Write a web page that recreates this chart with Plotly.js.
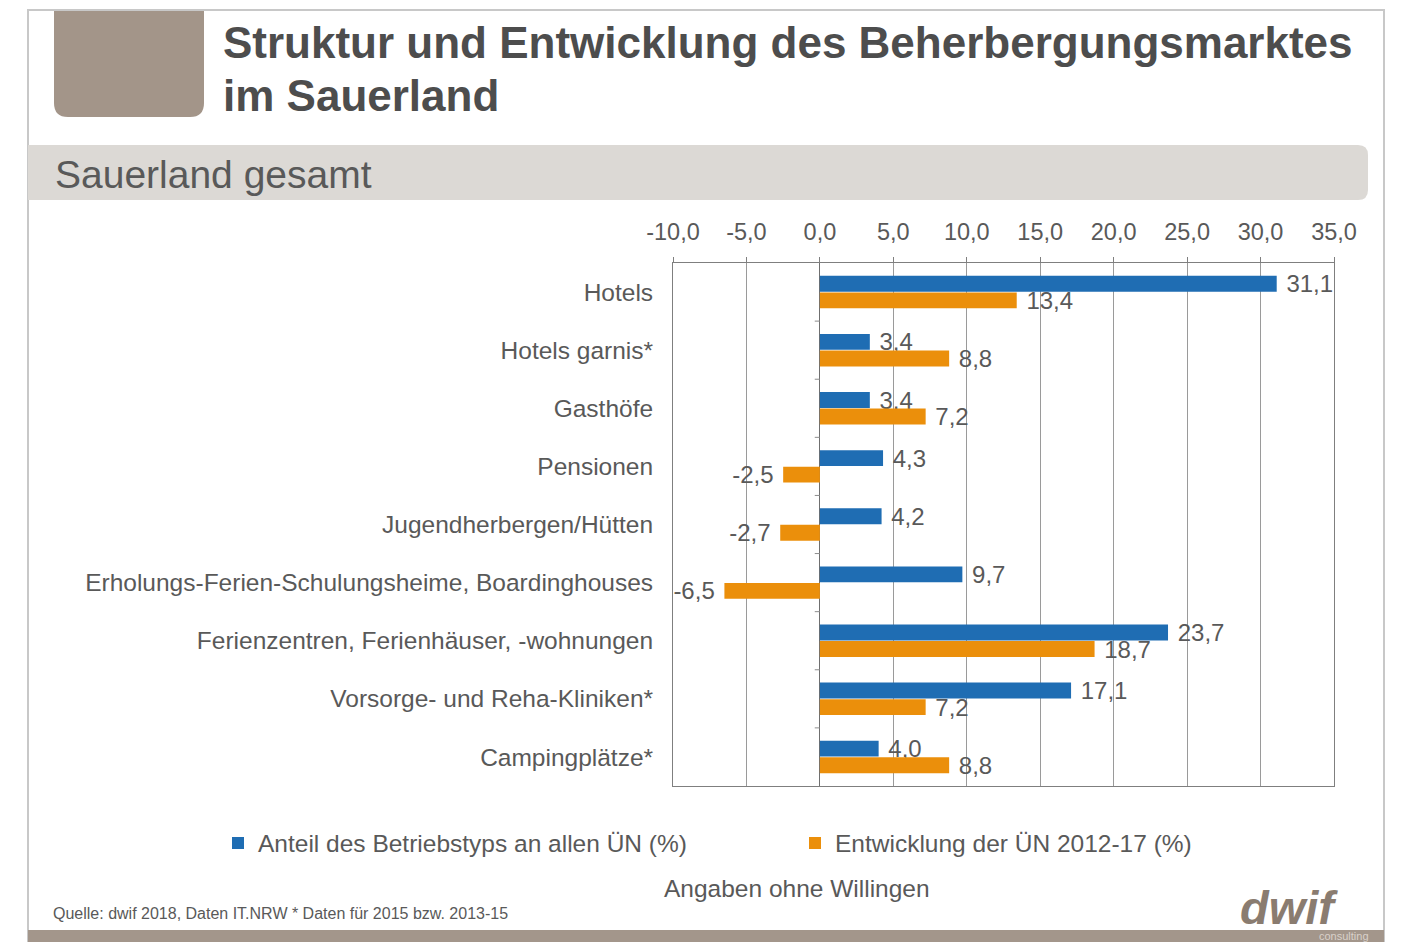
<!DOCTYPE html>
<html>
<head>
<meta charset="utf-8">
<script src="https://cdn.plot.ly/plotly-3.0.1.min.js"></script>
<style>html,body{margin:0;padding:0;background:#fff;}#chart{width:1403px;height:942px;}</style>
</head>
<body>
<div id="chart"></div>
<script>
const categories = ["Hotels","Hotels garnis*","Gasthöfe","Pensionen","Jugendherbergen/Hütten","Erholungs-Ferien-Schulungsheime, Boardinghouses","Ferienzentren, Ferienhäuser, -wohnungen","Vorsorge- und Reha-Kliniken*","Campingplätze*"];
const anteil = [31.1,3.4,3.4,4.3,4.2,9.7,23.7,17.1,4.0];
const entwicklung = [13.4,8.8,7.2,-2.5,-2.7,-6.5,18.7,7.2,8.8];
const seriesNames = ["Anteil des Betriebstyps an allen ÜN (%)","Entwicklung der ÜN 2012-17 (%)"];
const xTicks = [-10,-5,0,5,10,15,20,25,30,35];
const xTickLabels = ["-10,0","-5,0","0,0","5,0","10,0","15,0","20,0","25,0","30,0","35,0"];

const W=1403,H=942,L=673,R=1334,T=263,B=786;
function px(x){return (x-L)/(R-L);}
function py(y){return (B-y)/(B-T);}
const FONT="Liberation Sans, Arial, sans-serif";
const GREY="#595959";
const NB="\u00a0";

function roundedBottom(x0,y0,x1,y1,r){
  const rx=r/(R-L), ry=r/(B-T);
  const X0=px(x0),X1=px(x1),Y0=py(y0),Y1=py(y1);
  return `M${X0},${Y0} L${X1},${Y0} L${X1},${Y1+ry} Q${X1},${Y1} ${X1-rx},${Y1} L${X0+rx},${Y1} Q${X0},${Y1} ${X0},${Y1+ry} Z`;
}
function roundedRight(x0,y0,x1,y1,r){
  const rx=r/(R-L), ry=r/(B-T);
  const X0=px(x0),X1=px(x1),Y0=py(y0),Y1=py(y1);
  return `M${X0},${Y0} L${X1-rx},${Y0} Q${X1},${Y0} ${X1},${Y0-ry} L${X1},${Y1+ry} Q${X1},${Y1} ${X1-rx},${Y1} L${X0},${Y1} Z`;
}
function labelTemplates(vals){
  return vals.map(v => v < 0 ? '%{x:.1f}' + NB : NB + '%{x:.1f}');
}

const shapes = [
  {type:'rect',xref:'paper',yref:'paper',x0:px(28),x1:px(1384),y0:py(10),y1:py(942),line:{color:'#c8c8c8',width:2},layer:'below'},
  {type:'rect',xref:'paper',yref:'paper',x0:px(28),x1:px(1384),y0:py(930),y1:py(942),fillcolor:'#a3968b',line:{width:0},layer:'below'},
  {type:'path',xref:'paper',yref:'paper',path:roundedBottom(54,11,204,117,14),fillcolor:'#a39589',line:{width:0},layer:'below'},
  {type:'path',xref:'paper',yref:'paper',path:roundedRight(28,145,1368,200,10),fillcolor:'#dcd9d5',line:{width:0},layer:'below'}
];
for(let i=1;i<categories.length;i++){
  shapes.push({type:'line',xref:'x',yref:'y',x0:-0.35,x1:0,y0:i-0.5,y1:i-0.5,line:{color:'#8c8c8c',width:1}});
}

const traces = [
  {type:'bar',orientation:'h',name:seriesNames[0],y:categories,x:anteil,marker:{color:'#1f6db3'},
   texttemplate:labelTemplates(anteil),textposition:'outside',cliponaxis:false,constraintext:'none',
   textfont:{family:FONT,size:24,color:GREY},hoverinfo:'skip'},
  {type:'bar',orientation:'h',name:seriesNames[1],y:categories,x:entwicklung,marker:{color:'#eb8f0b'},
   texttemplate:labelTemplates(entwicklung),textposition:'outside',cliponaxis:false,constraintext:'none',
   textfont:{family:FONT,size:24,color:GREY},hoverinfo:'skip'}
];

const annotations = [
  {xref:'paper',yref:'paper',x:px(221),y:py(43),xanchor:'left',yanchor:'middle',showarrow:false,
   text:"Struktur und Entwicklung des Beherbergungsmarktes",font:{family:FONT,size:44,color:'#4d4d4d',weight:'bold'}},
  {xref:'paper',yref:'paper',x:px(221),y:py(96),xanchor:'left',yanchor:'middle',showarrow:false,
   text:"im Sauerland",font:{family:FONT,size:44,color:'#4d4d4d',weight:'bold'}},
  {xref:'paper',yref:'paper',x:px(53),y:py(175),xanchor:'left',yanchor:'middle',showarrow:false,
   text:"Sauerland gesamt",font:{family:FONT,size:39,color:GREY}},
  {xref:'paper',yref:'paper',x:px(797),y:py(888),xanchor:'center',yanchor:'middle',showarrow:false,
   text:"Angaben ohne Willingen",font:{family:FONT,size:24.5,color:GREY}},
  {xref:'paper',yref:'paper',x:px(51),y:py(913),xanchor:'left',yanchor:'middle',showarrow:false,
   text:"Quelle: dwif 2018, Daten IT.NRW * Daten für 2015 bzw. 2013-15",font:{family:FONT,size:16,color:GREY}},
  {xref:'paper',yref:'paper',x:px(1238),y:py(907),xanchor:'left',yanchor:'middle',showarrow:false,
   text:"dwif",font:{family:FONT,size:47,color:'#8a7c70',weight:'bold',style:'italic'}},
  {xref:'paper',yref:'paper',x:px(1371),y:py(936),xanchor:'right',yanchor:'middle',showarrow:false,
   text:"consulting",font:{family:FONT,size:11,color:'#d9d1ca'}}
];

const layout = {
  width:W,height:H,
  margin:{l:L,r:W-R,t:T,b:H-B,pad:0},
  paper_bgcolor:'#ffffff',plot_bgcolor:'#ffffff',
  font:{family:FONT,size:23,color:GREY},
  barmode:'group',bargap:0.43,bargroupgap:0.04,
  showlegend:true,
  legend:{orientation:'h',x:px(218),xanchor:'left',y:py(843),yanchor:'middle',
          font:{family:FONT,size:24.5,color:GREY},entrywidth:532,entrywidthmode:'pixels',
          itemwidth:30,bgcolor:'rgba(0,0,0,0)',traceorder:'normal'},
  xaxis:{side:'top',range:[-10,35],tickvals:xTicks,ticktext:xTickLabels,
         showgrid:true,gridcolor:'#9a9a9a',gridwidth:1,
         zeroline:true,zerolinecolor:'#6f6f6f',zerolinewidth:1,
         showline:true,linecolor:'#7f7f7f',linewidth:1,mirror:true,
         ticks:'outside',ticklen:5,tickcolor:'#7f7f7f',ticklabelstandoff:8,
         tickfont:{family:FONT,size:23.5,color:GREY},fixedrange:true},
  yaxis:{type:'category',categoryorder:'array',categoryarray:categories,autorange:'reversed',
         showgrid:false,zeroline:false,showline:true,linecolor:'#7f7f7f',linewidth:1,mirror:true,
         ticks:'',ticklabelstandoff:14,tickfont:{family:FONT,size:24.5,color:GREY},fixedrange:true},
  separators:',.',
  shapes:shapes,
  annotations:annotations
};

Plotly.newPlot('chart',traces,layout,{displayModeBar:false,staticPlot:true});
</script>
</body>
</html>
